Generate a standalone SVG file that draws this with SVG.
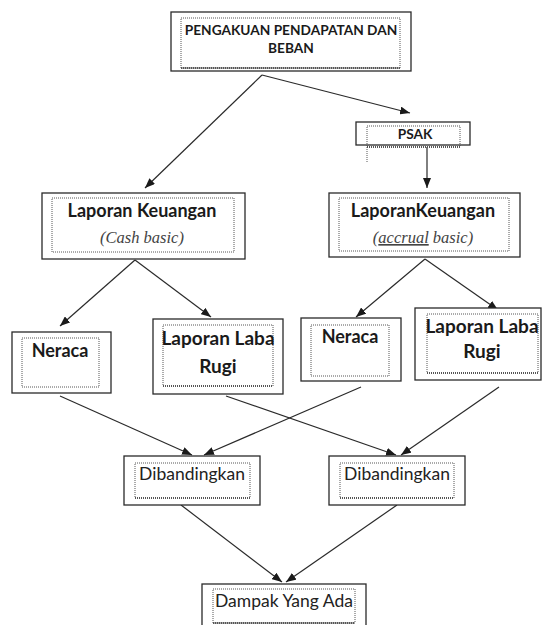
<svg xmlns="http://www.w3.org/2000/svg" width="542" height="625" viewBox="0 0 542 625">
<style>
.outer{fill:#fff;stroke:#2a2a2a;stroke-width:1.3}
.inner{fill:none;stroke:#444;stroke-width:0.9;stroke-dasharray:1 1}
.dbl{fill:none;stroke:#555;stroke-width:2;stroke-dasharray:1 1}
.b{font-family:Lato,"Liberation Sans",sans-serif;font-weight:bold;font-size:18px;fill:#1a1a1a;text-anchor:middle}
.b2{font-family:Lato,"Liberation Sans",sans-serif;font-weight:bold;font-size:19px;fill:#1a1a1a;text-anchor:middle}
.cap{font-family:Lato,"Liberation Sans",sans-serif;font-weight:bold;font-size:13.7px;fill:#1a1a1a;text-anchor:middle}
.r{font-family:Lato,"Liberation Sans",sans-serif;font-size:17.5px;fill:#222;text-anchor:middle}
.i{font-family:"Liberation Serif",serif;font-style:italic;font-size:16.5px;fill:#444;text-anchor:middle}
.c line{stroke:#2a2a2a;stroke-width:1.2;marker-end:url(#ah)}
</style>
<defs>
<marker id="ah" markerUnits="userSpaceOnUse" markerWidth="10" markerHeight="8" refX="10" refY="4" orient="auto">
<path d="M0,0 L10,4 L0,8 z" fill="#1a1a1a"/>
</marker>
</defs>
<rect width="542" height="625" fill="#fff"/>
<g class="c" id="connectors">
<line x1="262" y1="75" x2="145" y2="188"/>
<line x1="262" y1="75" x2="410" y2="113"/>
<line x1="427" y1="147" x2="427" y2="188"/>
<line x1="135" y1="260" x2="60" y2="326"/>
<line x1="135" y1="260" x2="211" y2="317"/>
<line x1="425" y1="259" x2="356" y2="317"/>
<line x1="425" y1="259" x2="498" y2="310"/>
<line x1="60" y1="396" x2="192" y2="455"/>
<line x1="361" y1="387" x2="204" y2="455"/>
<line x1="226" y1="396" x2="396" y2="455"/>
<line x1="499" y1="387" x2="401" y2="455"/>
<line x1="181" y1="505" x2="282" y2="582"/>
<line x1="397" y1="505" x2="286" y2="582"/>
</g>
<g id="n-top">
<rect class="outer" x="171" y="12" width="240" height="59"/>
<rect class="inner" x="181" y="18" width="219" height="50"/>
<line class="dbl" x1="181" y1="68" x2="400" y2="68"/>
<text class="cap" x="291" y="35">PENGAKUAN PENDAPATAN DAN</text>
<text class="cap" x="291" y="53">BEBAN</text>
</g>
<g id="n-psak">
<rect class="outer" x="356" y="122" width="114" height="23"/>
<rect class="inner" x="367" y="126" width="93" height="21"/>
<line class="dbl" x1="367" y1="147" x2="460" y2="147"/>
<line class="inner" x1="367" y1="147" x2="367" y2="162"/>
<text class="cap" x="415" y="139">PSAK</text>
</g>
<g id="n-lk-cash">
<rect class="outer" x="42" y="193" width="203" height="66"/>
<rect class="inner" x="52" y="198" width="182" height="54"/>
<text class="b" x="142" y="217">Laporan Keuangan</text>
<text class="i" x="142" y="243">(Cash basic)</text>
</g>
<g id="n-lk-accrual">
<rect class="outer" x="329" y="193" width="191" height="64"/>
<rect class="inner" x="339" y="198" width="170" height="53"/>
<text class="b" x="423" y="217">LaporanKeuangan</text>
<text class="i" x="423" y="243">(<tspan text-decoration="underline">accrual</tspan> basic)</text>
</g>
<g id="n-neraca-l">
<rect class="outer" x="12" y="332" width="99" height="61"/>
<rect class="inner" x="22" y="338" width="77" height="49"/>
<text class="b" x="60" y="357">Neraca</text>
</g>
<g id="n-llr-l">
<rect class="outer" x="153" y="319" width="130" height="75"/>
<rect class="inner" x="163" y="325" width="110" height="61"/>
<line class="dbl" x1="163" y1="386" x2="273" y2="386"/>
<text class="b2" x="218" y="345">Laporan Laba</text>
<text class="b2" x="218" y="373">Rugi</text>
</g>
<g id="n-neraca-r">
<rect class="outer" x="301" y="318" width="100" height="63"/>
<rect class="inner" x="311" y="325" width="78" height="51"/>
<text class="b" x="350" y="343">Neraca</text>
</g>
<g id="n-llr-r">
<rect class="outer" x="415" y="308" width="126" height="72"/>
<rect class="inner" x="427" y="314" width="111" height="59"/>
<line class="dbl" x1="427" y1="373" x2="538" y2="373"/>
<text class="b2" x="482" y="333">Laporan Laba</text>
<text class="b2" x="482" y="358">Rugi</text>
</g>
<g id="n-dib-l">
<rect class="outer" x="124" y="456" width="136" height="49"/>
<rect class="inner" x="135" y="463" width="115" height="35"/>
<line class="dbl" x1="135" y1="498" x2="250" y2="498"/>
<text class="r" x="192" y="480">Dibandingkan</text>
</g>
<g id="n-dib-r">
<rect class="outer" x="329" y="456" width="136" height="49"/>
<rect class="inner" x="340" y="463" width="114" height="35"/>
<line class="dbl" x1="340" y1="498" x2="454" y2="498"/>
<text class="r" x="397" y="480">Dibandingkan</text>
</g>
<g id="n-dampak">
<rect class="outer" x="202" y="584" width="164" height="50"/>
<rect class="inner" x="213" y="589" width="142" height="34"/>
<line class="dbl" x1="213" y1="623" x2="355" y2="623"/>
<text class="r" x="284" y="607">Dampak Yang Ada</text>
</g>
</svg>
